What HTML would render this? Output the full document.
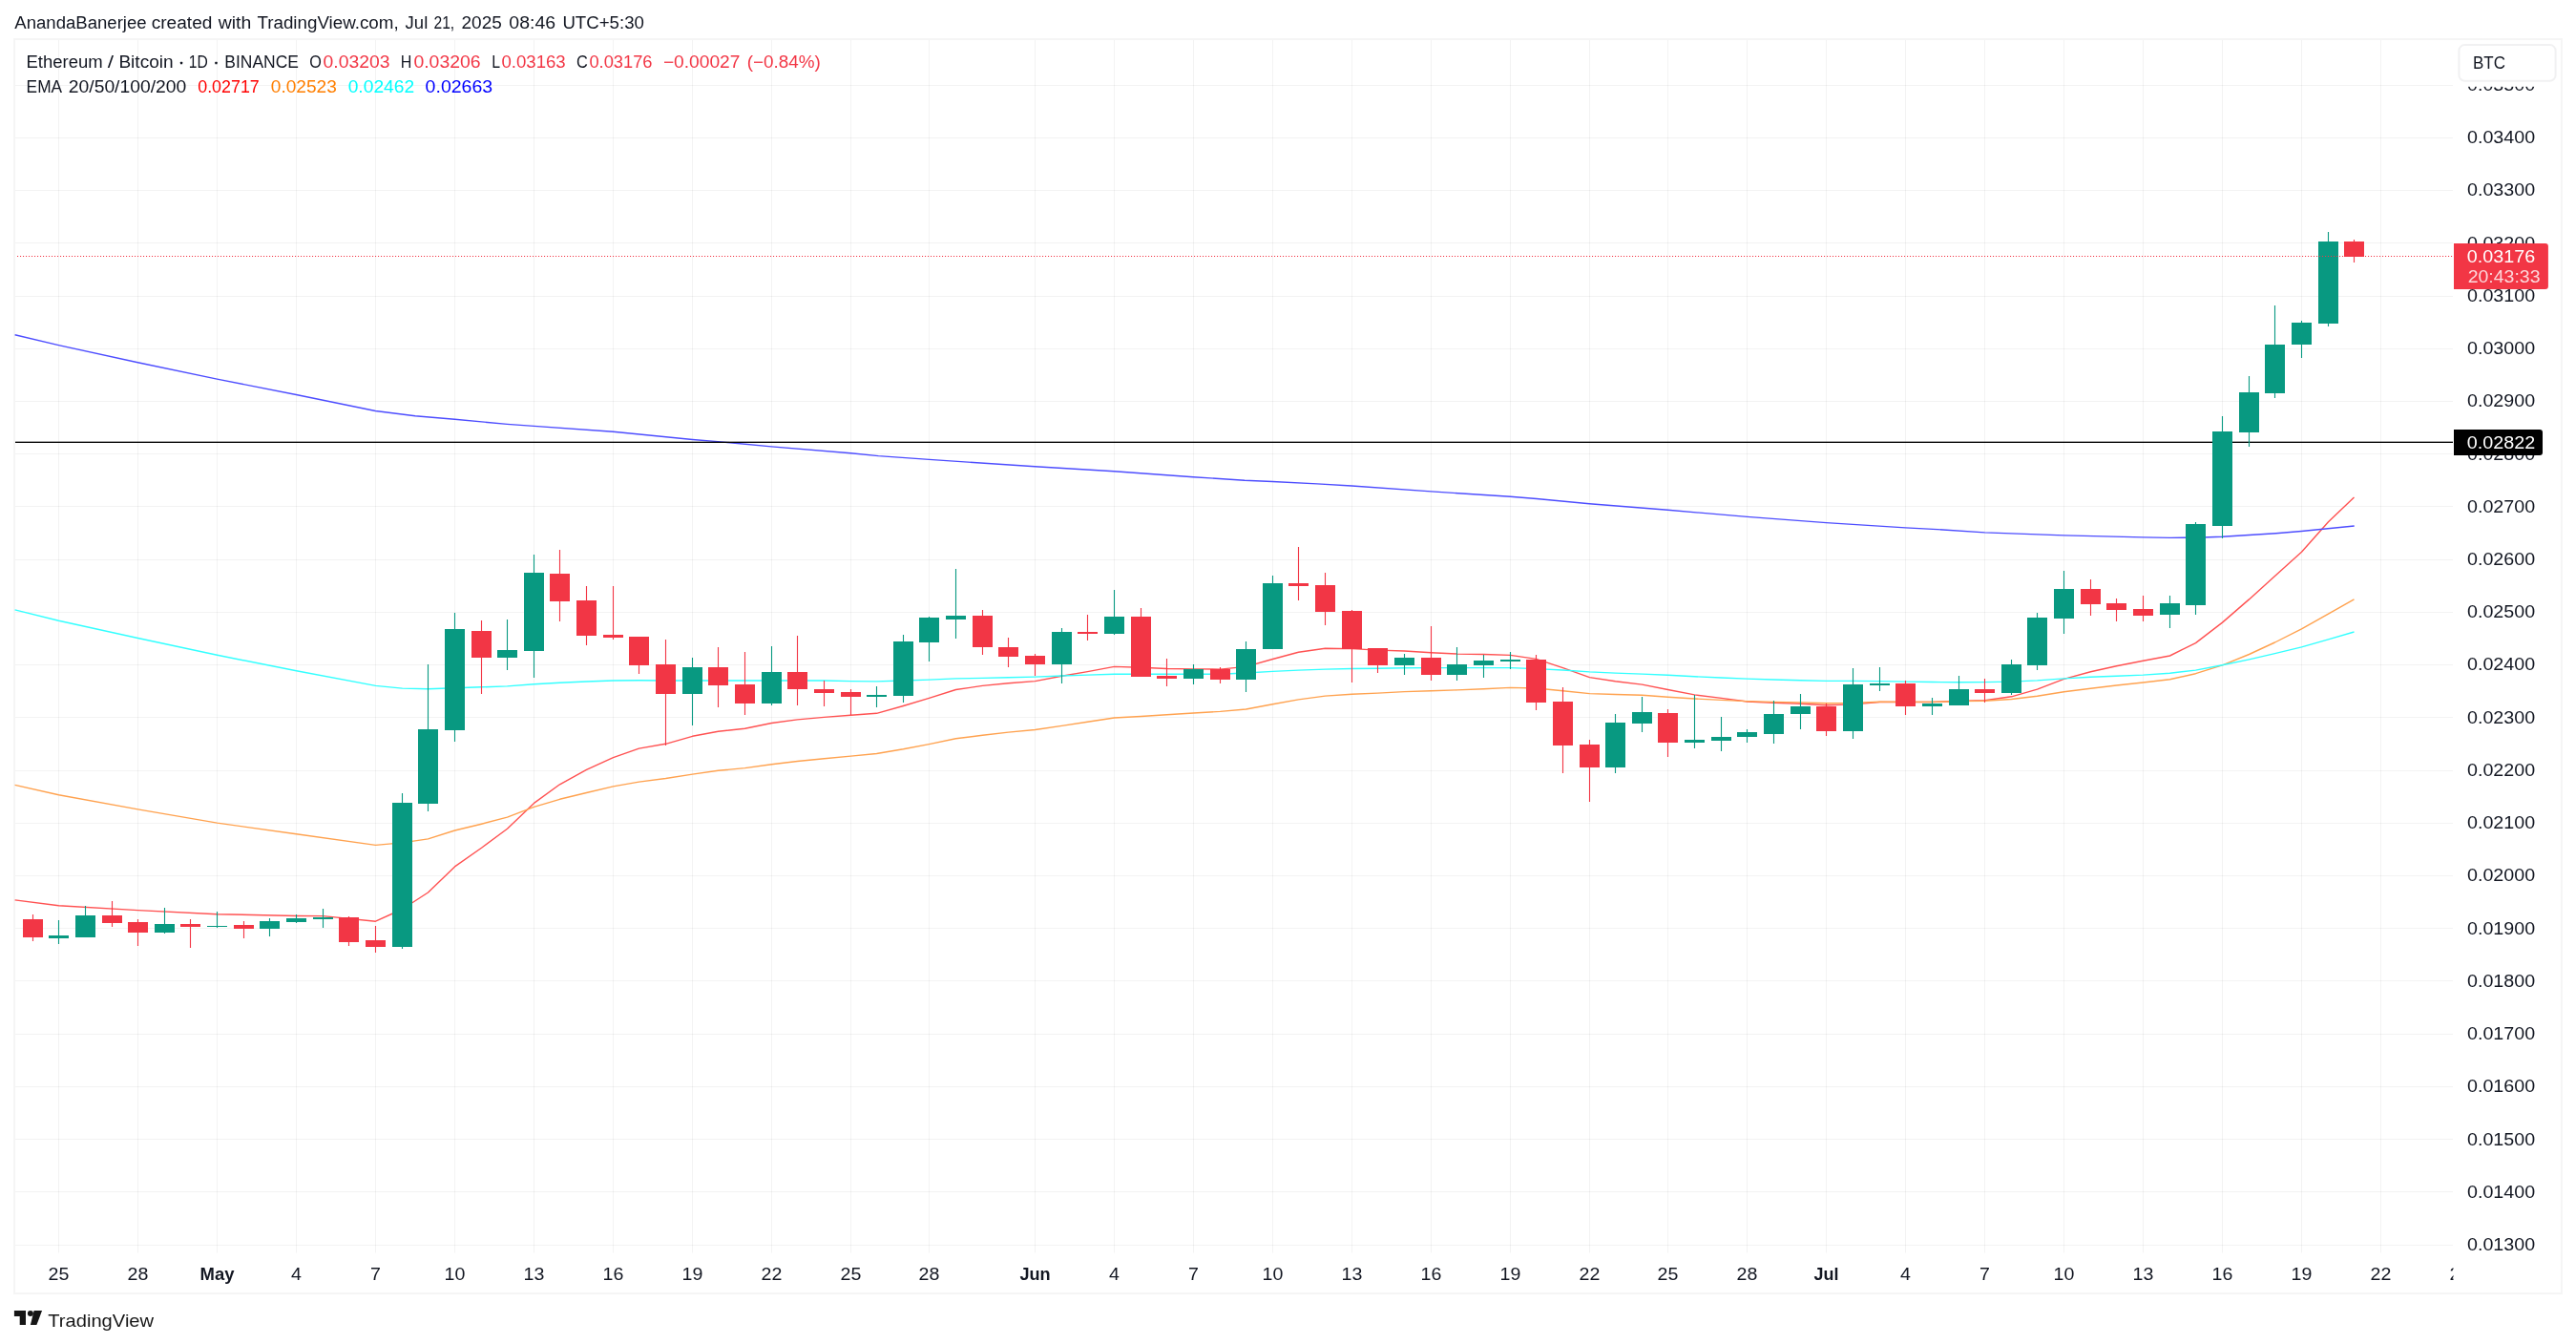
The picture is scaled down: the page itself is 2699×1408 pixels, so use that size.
<!DOCTYPE html>
<html><head><meta charset="utf-8"><title>ETHBTC chart</title>
<style>html,body{margin:0;padding:0;background:#fff}svg{will-change:transform}body{width:2699px;height:1408px;position:relative;overflow:hidden;font-family:"Liberation Sans",sans-serif}</style>
</head><body>
<svg width="2699" height="1408" viewBox="0 0 2699 1408" style="position:absolute;left:0;top:0" font-family="Liberation Sans, sans-serif">
<rect width="2699" height="1408" fill="#fff"/>
<rect x="15" y="41" width="2669" height="1314" fill="#fff" stroke="#f5f5f5" stroke-width="2"/>
<g fill="#000" fill-opacity="0.047"><rect x="16" y="1304" width="2554" height="1"/>
<rect x="16" y="1248" width="2554" height="1"/>
<rect x="16" y="1193" width="2554" height="1"/>
<rect x="16" y="1138" width="2554" height="1"/>
<rect x="16" y="1083" width="2554" height="1"/>
<rect x="16" y="1027" width="2554" height="1"/>
<rect x="16" y="972" width="2554" height="1"/>
<rect x="16" y="917" width="2554" height="1"/>
<rect x="16" y="862" width="2554" height="1"/>
<rect x="16" y="807" width="2554" height="1"/>
<rect x="16" y="751" width="2554" height="1"/>
<rect x="16" y="696" width="2554" height="1"/>
<rect x="16" y="641" width="2554" height="1"/>
<rect x="16" y="586" width="2554" height="1"/>
<rect x="16" y="530" width="2554" height="1"/>
<rect x="16" y="475" width="2554" height="1"/>
<rect x="16" y="420" width="2554" height="1"/>
<rect x="16" y="365" width="2554" height="1"/>
<rect x="16" y="310" width="2554" height="1"/>
<rect x="16" y="254" width="2554" height="1"/>
<rect x="16" y="199" width="2554" height="1"/>
<rect x="16" y="144" width="2554" height="1"/>
<rect x="16" y="89" width="2554" height="1"/>
<rect x="61" y="42" width="1" height="1270.5"/>
<rect x="144" y="42" width="1" height="1270.5"/>
<rect x="227" y="42" width="1" height="1270.5"/>
<rect x="310" y="42" width="1" height="1270.5"/>
<rect x="393" y="42" width="1" height="1270.5"/>
<rect x="476" y="42" width="1" height="1270.5"/>
<rect x="559" y="42" width="1" height="1270.5"/>
<rect x="642" y="42" width="1" height="1270.5"/>
<rect x="725" y="42" width="1" height="1270.5"/>
<rect x="808" y="42" width="1" height="1270.5"/>
<rect x="891" y="42" width="1" height="1270.5"/>
<rect x="973" y="42" width="1" height="1270.5"/>
<rect x="1084" y="42" width="1" height="1270.5"/>
<rect x="1167" y="42" width="1" height="1270.5"/>
<rect x="1250" y="42" width="1" height="1270.5"/>
<rect x="1333" y="42" width="1" height="1270.5"/>
<rect x="1416" y="42" width="1" height="1270.5"/>
<rect x="1499" y="42" width="1" height="1270.5"/>
<rect x="1582" y="42" width="1" height="1270.5"/>
<rect x="1665" y="42" width="1" height="1270.5"/>
<rect x="1747" y="42" width="1" height="1270.5"/>
<rect x="1830" y="42" width="1" height="1270.5"/>
<rect x="1913" y="42" width="1" height="1270.5"/>
<rect x="1996" y="42" width="1" height="1270.5"/>
<rect x="2079" y="42" width="1" height="1270.5"/>
<rect x="2162" y="42" width="1" height="1270.5"/>
<rect x="2245" y="42" width="1" height="1270.5"/>
<rect x="2328" y="42" width="1" height="1270.5"/>
<rect x="2411" y="42" width="1" height="1270.5"/>
<rect x="2494" y="42" width="1" height="1270.5"/></g>
<polyline points="15.6,942.9 61.5,948.8 144.5,953.6 227.5,957.7 310.5,959.5 338.5,959.6 393.5,965.2 421.5,952.5 448.5,935.0 476.5,907.9 504.5,888.2 531.5,868.2 559.5,841.4 586.5,821.8 614.5,806.4 642.5,793.6 669.5,784.1 697.5,779.3 725.5,771.3 752.5,766.3 780.5,763.2 808.5,757.5 835.5,753.9 863.5,751.4 891.5,749.3 918.5,747.3 946.5,739.5 973.5,731.4 1001.5,722.5 1029.5,718.4 1056.5,715.7 1084.5,713.6 1112.5,708.2 1139.5,703.6 1167.5,698.4 1195.5,699.3 1222.5,700.5 1250.5,700.9 1278.5,701.1 1305.5,698.4 1333.5,690.5 1360.5,683.2 1388.5,679.3 1416.5,679.6 1443.5,681.1 1471.5,682.0 1499.5,683.8 1526.5,685.0 1554.5,685.5 1582.5,686.4 1609.5,690.4 1637.5,699.7 1665.5,709.6 1692.5,713.8 1720.5,717.1 1747.5,722.5 1775.5,727.9 1803.5,731.4 1830.5,735.0 1858.5,736.4 1886.5,737.3 1913.5,738.8 1941.5,737.9 1969.5,735.5 1996.5,735.5 2024.5,735.5 2052.5,734.5 2079.5,733.8 2107.5,729.8 2134.5,722.1 2162.5,711.4 2190.5,703.8 2217.5,697.7 2245.5,692.3 2273.5,687.0 2300.5,673.6 2328.5,652.1 2356.5,627.9 2383.5,603.4 2411.5,578.3 2439.5,546.7 2466.5,521.1" fill="none" stroke="#ff5252" stroke-width="1.4" stroke-opacity="1" stroke-linejoin="round"/>
<polyline points="15.6,822.4 61.5,832.7 144.5,847.9 227.5,862.1 310.5,873.8 393.5,885.4 421.5,882.9 448.5,878.9 476.5,870.0 504.5,863.2 531.5,856.1 559.5,845.4 586.5,837.3 614.5,830.5 642.5,823.9 669.5,819.1 697.5,815.5 725.5,811.1 752.5,807.3 780.5,804.6 808.5,800.7 835.5,797.5 863.5,794.8 891.5,792.1 918.5,789.5 946.5,784.8 973.5,779.6 1001.5,773.8 1029.5,770.2 1056.5,767.1 1084.5,764.5 1112.5,760.4 1139.5,756.3 1167.5,752.0 1195.5,750.5 1222.5,748.8 1250.5,747.0 1278.5,745.4 1305.5,743.0 1333.5,737.7 1360.5,732.9 1388.5,729.1 1416.5,727.3 1443.5,726.1 1471.5,724.6 1499.5,723.8 1526.5,722.9 1554.5,721.8 1582.5,720.4 1609.5,721.0 1637.5,723.7 1665.5,726.6 1692.5,727.5 1720.5,728.3 1747.5,730.2 1775.5,732.0 1803.5,733.4 1830.5,734.6 1858.5,735.4 1886.5,735.9 1913.5,736.8 1941.5,736.4 1969.5,735.2 1996.5,735.4 2024.5,735.4 2052.5,734.6 2079.5,734.3 2107.5,732.5 2134.5,729.3 2162.5,724.8 2190.5,721.3 2217.5,718.0 2245.5,715.0 2273.5,711.8 2300.5,705.7 2328.5,696.8 2356.5,685.5 2383.5,673.0 2411.5,658.8 2439.5,643.2 2466.5,627.9" fill="none" stroke="#ffa24f" stroke-width="1.4" stroke-opacity="1" stroke-linejoin="round"/>
<polyline points="15.6,638.9 61.5,650.3 144.5,668.5 227.5,686.3 310.5,702.7 393.5,718.4 421.5,721.1 448.5,721.8 476.5,720.7 504.5,719.8 531.5,718.9 559.5,716.8 586.5,715.2 614.5,714.0 642.5,713.0 669.5,712.7 697.5,713.0 863.5,713.0 891.5,713.6 918.5,713.9 946.5,713.0 973.5,712.1 1001.5,710.9 1029.5,710.4 1056.5,709.8 1084.5,709.1 1112.5,708.0 1139.5,707.1 1167.5,706.3 1278.5,706.3 1305.5,705.0 1333.5,703.4 1360.5,702.1 1388.5,701.1 1416.5,700.5 1443.5,700.2 1471.5,699.8 1499.5,699.6 1582.5,699.6 1609.5,700.6 1637.5,702.0 1665.5,703.9 1692.5,705.1 1720.5,706.1 1747.5,707.3 1775.5,708.8 1803.5,710.0 1830.5,711.1 1858.5,712.0 1886.5,712.7 1913.5,713.4 1941.5,713.4 1969.5,713.6 1996.5,714.1 2024.5,714.5 2052.5,714.8 2079.5,714.6 2107.5,714.1 2134.5,712.9 2162.5,710.9 2190.5,709.3 2217.5,708.2 2245.5,707.1 2273.5,705.2 2300.5,702.1 2328.5,696.8 2356.5,690.9 2383.5,684.6 2411.5,677.9 2439.5,669.8 2466.5,662.0" fill="none" stroke="#33ffff" stroke-width="1.4" stroke-opacity="1" stroke-linejoin="round"/>
<polyline points="15.6,350.7 61.4,361.6 144.4,379.8 227.4,397.1 310.4,413.5 393.4,430.5 435.0,435.8 476.4,439.3 531.3,444.4 559.4,446.4 642.4,452.2 725.6,460.5 758.0,463.1 808.2,467.9 891.4,474.7 920.3,477.6 973.4,481.4 1084.4,488.8 1167.3,493.8 1250.2,499.7 1304.0,503.3 1333.1,504.5 1380.0,506.9 1416.3,509.0 1499.5,514.9 1582.4,520.2 1610.0,522.5 1665.3,527.8 1747.4,534.3 1830.6,541.4 1913.5,547.6 1996.4,552.9 2030.0,554.6 2079.5,557.9 2162.5,560.9 2245.5,562.9 2273.6,563.4 2300.5,563.2 2328.4,562.3 2356.4,560.5 2384.5,558.7 2411.4,556.5 2439.0,553.7 2466.7,551.0" fill="none" stroke="#4d4dff" stroke-width="1.4" stroke-opacity="1" stroke-linejoin="round"/>
<rect x="16" y="462.65" width="2554" height="1.35" fill="#000"/>
<rect x="33.95" y="958" width="1.1" height="28" fill="#f23645"/>
<rect x="24" y="963" width="21" height="19" fill="#f23645"/>
<rect x="60.95" y="964" width="1.1" height="25" fill="#089981"/>
<rect x="51" y="980" width="21" height="3" fill="#089981"/>
<rect x="88.95" y="949" width="1.1" height="33" fill="#089981"/>
<rect x="79" y="959" width="21" height="23" fill="#089981"/>
<rect x="116.95" y="944" width="1.1" height="27" fill="#f23645"/>
<rect x="107" y="959" width="21" height="8" fill="#f23645"/>
<rect x="143.95" y="963" width="1.1" height="28" fill="#f23645"/>
<rect x="134" y="966" width="21" height="11" fill="#f23645"/>
<rect x="171.95" y="951" width="1.1" height="27" fill="#089981"/>
<rect x="162" y="968" width="21" height="9" fill="#089981"/>
<rect x="198.95" y="963" width="1.1" height="30" fill="#f23645"/>
<rect x="189" y="968" width="21" height="3" fill="#f23645"/>
<rect x="226.95" y="955" width="1.1" height="17" fill="#089981"/>
<rect x="217" y="970" width="21" height="1" fill="#089981"/>
<rect x="254.95" y="965" width="1.1" height="18" fill="#f23645"/>
<rect x="245" y="969" width="21" height="4" fill="#f23645"/>
<rect x="281.95" y="962" width="1.1" height="19" fill="#089981"/>
<rect x="272" y="965" width="21" height="8" fill="#089981"/>
<rect x="309.95" y="958" width="1.1" height="9" fill="#089981"/>
<rect x="300" y="962" width="21" height="4" fill="#089981"/>
<rect x="337.95" y="952" width="1.1" height="20" fill="#089981"/>
<rect x="328" y="961" width="21" height="2" fill="#089981"/>
<rect x="364.95" y="960" width="1.1" height="31" fill="#f23645"/>
<rect x="355" y="961" width="21" height="26" fill="#f23645"/>
<rect x="392.95" y="970" width="1.1" height="28" fill="#f23645"/>
<rect x="383" y="985" width="21" height="7" fill="#f23645"/>
<rect x="420.95" y="831" width="1.1" height="163" fill="#089981"/>
<rect x="411" y="841" width="21" height="151" fill="#089981"/>
<rect x="447.95" y="696" width="1.1" height="154" fill="#089981"/>
<rect x="438" y="764" width="21" height="78" fill="#089981"/>
<rect x="475.95" y="642" width="1.1" height="135" fill="#089981"/>
<rect x="466" y="659" width="21" height="106" fill="#089981"/>
<rect x="503.95" y="650" width="1.1" height="77" fill="#f23645"/>
<rect x="494" y="661" width="21" height="28" fill="#f23645"/>
<rect x="530.95" y="649" width="1.1" height="53" fill="#089981"/>
<rect x="521" y="681" width="21" height="8" fill="#089981"/>
<rect x="558.95" y="581" width="1.1" height="129" fill="#089981"/>
<rect x="549" y="600" width="21" height="82" fill="#089981"/>
<rect x="585.95" y="576" width="1.1" height="75" fill="#f23645"/>
<rect x="576" y="601" width="21" height="29" fill="#f23645"/>
<rect x="613.95" y="614" width="1.1" height="62" fill="#f23645"/>
<rect x="604" y="629" width="21" height="37" fill="#f23645"/>
<rect x="641.95" y="614" width="1.1" height="56" fill="#f23645"/>
<rect x="632" y="665" width="21" height="3" fill="#f23645"/>
<rect x="668.95" y="667" width="1.1" height="39" fill="#f23645"/>
<rect x="659" y="667" width="21" height="30" fill="#f23645"/>
<rect x="696.95" y="670" width="1.1" height="111" fill="#f23645"/>
<rect x="687" y="696" width="21" height="31" fill="#f23645"/>
<rect x="724.95" y="689" width="1.1" height="71" fill="#089981"/>
<rect x="715" y="699" width="21" height="28" fill="#089981"/>
<rect x="751.95" y="678" width="1.1" height="63" fill="#f23645"/>
<rect x="742" y="699" width="21" height="19" fill="#f23645"/>
<rect x="779.95" y="683" width="1.1" height="66" fill="#f23645"/>
<rect x="770" y="717" width="21" height="20" fill="#f23645"/>
<rect x="807.95" y="677" width="1.1" height="62" fill="#089981"/>
<rect x="798" y="704" width="21" height="33" fill="#089981"/>
<rect x="834.95" y="666" width="1.1" height="73" fill="#f23645"/>
<rect x="825" y="704" width="21" height="18" fill="#f23645"/>
<rect x="862.95" y="713" width="1.1" height="27" fill="#f23645"/>
<rect x="853" y="722" width="21" height="4" fill="#f23645"/>
<rect x="890.95" y="722" width="1.1" height="27" fill="#f23645"/>
<rect x="881" y="725" width="21" height="5" fill="#f23645"/>
<rect x="917.95" y="719" width="1.1" height="22" fill="#089981"/>
<rect x="908" y="728" width="21" height="2" fill="#089981"/>
<rect x="945.95" y="665" width="1.1" height="71" fill="#089981"/>
<rect x="936" y="672" width="21" height="57" fill="#089981"/>
<rect x="972.95" y="646" width="1.1" height="47" fill="#089981"/>
<rect x="963" y="647" width="21" height="26" fill="#089981"/>
<rect x="1000.95" y="596" width="1.1" height="73" fill="#089981"/>
<rect x="991" y="645" width="21" height="4" fill="#089981"/>
<rect x="1028.95" y="639" width="1.1" height="47" fill="#f23645"/>
<rect x="1019" y="645" width="21" height="33" fill="#f23645"/>
<rect x="1055.95" y="668" width="1.1" height="31" fill="#f23645"/>
<rect x="1046" y="678" width="21" height="10" fill="#f23645"/>
<rect x="1083.95" y="685" width="1.1" height="23" fill="#f23645"/>
<rect x="1074" y="687" width="21" height="9" fill="#f23645"/>
<rect x="1111.95" y="658" width="1.1" height="58" fill="#089981"/>
<rect x="1102" y="662" width="21" height="34" fill="#089981"/>
<rect x="1138.95" y="644" width="1.1" height="27" fill="#f23645"/>
<rect x="1129" y="662" width="21" height="2" fill="#f23645"/>
<rect x="1166.95" y="618" width="1.1" height="47" fill="#089981"/>
<rect x="1157" y="646" width="21" height="18" fill="#089981"/>
<rect x="1194.95" y="637" width="1.1" height="72" fill="#f23645"/>
<rect x="1185" y="646" width="21" height="63" fill="#f23645"/>
<rect x="1221.95" y="690" width="1.1" height="29" fill="#f23645"/>
<rect x="1212" y="708" width="21" height="3" fill="#f23645"/>
<rect x="1249.95" y="696" width="1.1" height="21" fill="#089981"/>
<rect x="1240" y="701" width="21" height="10" fill="#089981"/>
<rect x="1277.95" y="699" width="1.1" height="17" fill="#f23645"/>
<rect x="1268" y="701" width="21" height="11" fill="#f23645"/>
<rect x="1304.95" y="672" width="1.1" height="53" fill="#089981"/>
<rect x="1295" y="680" width="21" height="32" fill="#089981"/>
<rect x="1332.95" y="603" width="1.1" height="77" fill="#089981"/>
<rect x="1323" y="611" width="21" height="69" fill="#089981"/>
<rect x="1359.95" y="573" width="1.1" height="56" fill="#f23645"/>
<rect x="1350" y="611" width="21" height="3" fill="#f23645"/>
<rect x="1387.95" y="600" width="1.1" height="55" fill="#f23645"/>
<rect x="1378" y="613" width="21" height="28" fill="#f23645"/>
<rect x="1415.95" y="639" width="1.1" height="76" fill="#f23645"/>
<rect x="1406" y="640" width="21" height="40" fill="#f23645"/>
<rect x="1442.95" y="679" width="1.1" height="26" fill="#f23645"/>
<rect x="1433" y="679" width="21" height="18" fill="#f23645"/>
<rect x="1470.95" y="685" width="1.1" height="22" fill="#089981"/>
<rect x="1461" y="689" width="21" height="8" fill="#089981"/>
<rect x="1498.95" y="656" width="1.1" height="57" fill="#f23645"/>
<rect x="1489" y="689" width="21" height="18" fill="#f23645"/>
<rect x="1525.95" y="678" width="1.1" height="35" fill="#089981"/>
<rect x="1516" y="696" width="21" height="11" fill="#089981"/>
<rect x="1553.95" y="686" width="1.1" height="24" fill="#089981"/>
<rect x="1544" y="692" width="21" height="5" fill="#089981"/>
<rect x="1581.95" y="683" width="1.1" height="18" fill="#089981"/>
<rect x="1572" y="691" width="21" height="2" fill="#089981"/>
<rect x="1608.95" y="686" width="1.1" height="58" fill="#f23645"/>
<rect x="1599" y="691" width="21" height="45" fill="#f23645"/>
<rect x="1636.95" y="720" width="1.1" height="90" fill="#f23645"/>
<rect x="1627" y="735" width="21" height="46" fill="#f23645"/>
<rect x="1664.95" y="775" width="1.1" height="65" fill="#f23645"/>
<rect x="1655" y="780" width="21" height="24" fill="#f23645"/>
<rect x="1691.95" y="748" width="1.1" height="62" fill="#089981"/>
<rect x="1682" y="757" width="21" height="47" fill="#089981"/>
<rect x="1719.95" y="730" width="1.1" height="37" fill="#089981"/>
<rect x="1710" y="746" width="21" height="12" fill="#089981"/>
<rect x="1746.95" y="743" width="1.1" height="50" fill="#f23645"/>
<rect x="1737" y="747" width="21" height="31" fill="#f23645"/>
<rect x="1774.95" y="728" width="1.1" height="56" fill="#089981"/>
<rect x="1765" y="775" width="21" height="3" fill="#089981"/>
<rect x="1802.95" y="751" width="1.1" height="36" fill="#089981"/>
<rect x="1793" y="772" width="21" height="4" fill="#089981"/>
<rect x="1829.95" y="764" width="1.1" height="14" fill="#089981"/>
<rect x="1820" y="767" width="21" height="5" fill="#089981"/>
<rect x="1857.95" y="734" width="1.1" height="45" fill="#089981"/>
<rect x="1848" y="748" width="21" height="21" fill="#089981"/>
<rect x="1885.95" y="727" width="1.1" height="37" fill="#089981"/>
<rect x="1876" y="740" width="21" height="8" fill="#089981"/>
<rect x="1912.95" y="737" width="1.1" height="34" fill="#f23645"/>
<rect x="1903" y="740" width="21" height="26" fill="#f23645"/>
<rect x="1940.95" y="700" width="1.1" height="74" fill="#089981"/>
<rect x="1931" y="717" width="21" height="49" fill="#089981"/>
<rect x="1968.95" y="699" width="1.1" height="25" fill="#089981"/>
<rect x="1959" y="716" width="21" height="2" fill="#089981"/>
<rect x="1995.95" y="713" width="1.1" height="36" fill="#f23645"/>
<rect x="1986" y="716" width="21" height="24" fill="#f23645"/>
<rect x="2023.95" y="731" width="1.1" height="18" fill="#089981"/>
<rect x="2014" y="737" width="21" height="3" fill="#089981"/>
<rect x="2051.95" y="708" width="1.1" height="31" fill="#089981"/>
<rect x="2042" y="722" width="21" height="17" fill="#089981"/>
<rect x="2078.95" y="711" width="1.1" height="25" fill="#f23645"/>
<rect x="2069" y="722" width="21" height="4" fill="#f23645"/>
<rect x="2106.95" y="691" width="1.1" height="37" fill="#089981"/>
<rect x="2097" y="696" width="21" height="30" fill="#089981"/>
<rect x="2133.95" y="642" width="1.1" height="60" fill="#089981"/>
<rect x="2124" y="647" width="21" height="50" fill="#089981"/>
<rect x="2161.95" y="598" width="1.1" height="66" fill="#089981"/>
<rect x="2152" y="617" width="21" height="31" fill="#089981"/>
<rect x="2189.95" y="607" width="1.1" height="38" fill="#f23645"/>
<rect x="2180" y="617" width="21" height="16" fill="#f23645"/>
<rect x="2216.95" y="627" width="1.1" height="24" fill="#f23645"/>
<rect x="2207" y="632" width="21" height="7" fill="#f23645"/>
<rect x="2244.95" y="624" width="1.1" height="27" fill="#f23645"/>
<rect x="2235" y="638" width="21" height="7" fill="#f23645"/>
<rect x="2272.95" y="624" width="1.1" height="34" fill="#089981"/>
<rect x="2263" y="632" width="21" height="12" fill="#089981"/>
<rect x="2299.95" y="547" width="1.1" height="97" fill="#089981"/>
<rect x="2290" y="549" width="21" height="85" fill="#089981"/>
<rect x="2327.95" y="436" width="1.1" height="128" fill="#089981"/>
<rect x="2318" y="452" width="21" height="99" fill="#089981"/>
<rect x="2355.95" y="394" width="1.1" height="74" fill="#089981"/>
<rect x="2346" y="411" width="21" height="42" fill="#089981"/>
<rect x="2382.95" y="320" width="1.1" height="97" fill="#089981"/>
<rect x="2373" y="361" width="21" height="51" fill="#089981"/>
<rect x="2410.95" y="336" width="1.1" height="39" fill="#089981"/>
<rect x="2401" y="338" width="21" height="23" fill="#089981"/>
<rect x="2438.95" y="243" width="1.1" height="99" fill="#089981"/>
<rect x="2429" y="253" width="21" height="86" fill="#089981"/>
<rect x="2465.95" y="251" width="1.1" height="24" fill="#f23645"/>
<rect x="2456" y="253" width="21" height="16" fill="#f23645"/>
<line x1="18" y1="268.5" x2="2570" y2="268.5" stroke="#f23645" stroke-width="1.15" stroke-dasharray="1.1 1.9"/>
<text x="2585.00" y="1309.95" font-size="18.3" fill="#131722" textLength="71.10" lengthAdjust="spacingAndGlyphs">0.01300</text>
<text x="2585.00" y="1254.72" font-size="18.3" fill="#131722" textLength="71.10" lengthAdjust="spacingAndGlyphs">0.01400</text>
<text x="2585.00" y="1199.50" font-size="18.3" fill="#131722" textLength="71.10" lengthAdjust="spacingAndGlyphs">0.01500</text>
<text x="2585.00" y="1144.27" font-size="18.3" fill="#131722" textLength="71.10" lengthAdjust="spacingAndGlyphs">0.01600</text>
<text x="2585.00" y="1089.04" font-size="18.3" fill="#131722" textLength="71.10" lengthAdjust="spacingAndGlyphs">0.01700</text>
<text x="2585.00" y="1033.81" font-size="18.3" fill="#131722" textLength="71.10" lengthAdjust="spacingAndGlyphs">0.01800</text>
<text x="2585.00" y="978.59" font-size="18.3" fill="#131722" textLength="71.10" lengthAdjust="spacingAndGlyphs">0.01900</text>
<text x="2585.00" y="923.36" font-size="18.3" fill="#131722" textLength="71.10" lengthAdjust="spacingAndGlyphs">0.02000</text>
<text x="2585.00" y="868.13" font-size="18.3" fill="#131722" textLength="71.10" lengthAdjust="spacingAndGlyphs">0.02100</text>
<text x="2585.00" y="812.91" font-size="18.3" fill="#131722" textLength="71.10" lengthAdjust="spacingAndGlyphs">0.02200</text>
<text x="2585.00" y="757.68" font-size="18.3" fill="#131722" textLength="71.10" lengthAdjust="spacingAndGlyphs">0.02300</text>
<text x="2585.00" y="702.45" font-size="18.3" fill="#131722" textLength="71.10" lengthAdjust="spacingAndGlyphs">0.02400</text>
<text x="2585.00" y="647.23" font-size="18.3" fill="#131722" textLength="71.10" lengthAdjust="spacingAndGlyphs">0.02500</text>
<text x="2585.00" y="592.00" font-size="18.3" fill="#131722" textLength="71.10" lengthAdjust="spacingAndGlyphs">0.02600</text>
<text x="2585.00" y="536.77" font-size="18.3" fill="#131722" textLength="71.10" lengthAdjust="spacingAndGlyphs">0.02700</text>
<text x="2585.00" y="481.54" font-size="18.3" fill="#131722" textLength="71.10" lengthAdjust="spacingAndGlyphs">0.02800</text>
<text x="2585.00" y="426.32" font-size="18.3" fill="#131722" textLength="71.10" lengthAdjust="spacingAndGlyphs">0.02900</text>
<text x="2585.00" y="371.09" font-size="18.3" fill="#131722" textLength="71.10" lengthAdjust="spacingAndGlyphs">0.03000</text>
<text x="2585.00" y="315.86" font-size="18.3" fill="#131722" textLength="71.10" lengthAdjust="spacingAndGlyphs">0.03100</text>
<text x="2585.00" y="260.64" font-size="18.3" fill="#131722" textLength="71.10" lengthAdjust="spacingAndGlyphs">0.03200</text>
<text x="2585.00" y="205.41" font-size="18.3" fill="#131722" textLength="71.10" lengthAdjust="spacingAndGlyphs">0.03300</text>
<text x="2585.00" y="150.18" font-size="18.3" fill="#131722" textLength="71.10" lengthAdjust="spacingAndGlyphs">0.03400</text>
<text x="2585.00" y="94.96" font-size="18.3" fill="#131722" textLength="71.10" lengthAdjust="spacingAndGlyphs">0.03500</text>
<rect x="2571" y="42" width="112" height="48.8" fill="#fff"/>
<rect x="2576.4" y="47.1" width="101.2" height="37.7" rx="6" fill="#fff" stroke="#f1f1f2" stroke-width="2"/>
<text x="2591.06" y="72.00" font-size="18" fill="#131722" textLength="33.94" lengthAdjust="spacingAndGlyphs">BTC</text>
<path d="M2571.0 255.0 H2666.9 Q2669.9 255.0 2669.9 258.0 V299.9 Q2669.9 302.9 2666.9 302.9 H2571.0 Z" fill="#f23645"/>
<text x="2584.80" y="275.20" font-size="18.3" fill="#fff" textLength="71.35" lengthAdjust="spacingAndGlyphs">0.03176</text>
<text x="2585.70" y="296.10" font-size="18.3" fill="#fff" textLength="75.78" lengthAdjust="spacingAndGlyphs" fill-opacity="0.8">20:43:33</text>
<path d="M2571.0 449.9 H2661.0 Q2664.0 449.9 2664.0 452.9 V473.9 Q2664.0 476.9 2661.0 476.9 H2571.0 Z" fill="#000"/>
<text x="2584.80" y="470.15" font-size="18.3" fill="#fff" textLength="71.35" lengthAdjust="spacingAndGlyphs">0.02822</text>
<clipPath id="tc"><rect x="16" y="1313" width="2554.5" height="41"/></clipPath>
<g clip-path="url(#tc)">
<text x="50.60" y="1340.60" font-size="18" fill="#131722" textLength="21.82" lengthAdjust="spacingAndGlyphs">25</text>
<text x="133.60" y="1340.60" font-size="18" fill="#131722" textLength="21.82" lengthAdjust="spacingAndGlyphs">28</text>
<text x="209.55" y="1340.60" font-size="18" fill="#131722" textLength="35.92" lengthAdjust="spacingAndGlyphs" font-weight="bold">May</text>
<text x="305.05" y="1340.60" font-size="18" fill="#131722" textLength="10.91" lengthAdjust="spacingAndGlyphs">4</text>
<text x="388.05" y="1340.60" font-size="18" fill="#131722" textLength="10.91" lengthAdjust="spacingAndGlyphs">7</text>
<text x="465.60" y="1340.60" font-size="18" fill="#131722" textLength="21.82" lengthAdjust="spacingAndGlyphs">10</text>
<text x="548.60" y="1340.60" font-size="18" fill="#131722" textLength="21.82" lengthAdjust="spacingAndGlyphs">13</text>
<text x="631.60" y="1340.60" font-size="18" fill="#131722" textLength="21.82" lengthAdjust="spacingAndGlyphs">16</text>
<text x="714.60" y="1340.60" font-size="18" fill="#131722" textLength="21.82" lengthAdjust="spacingAndGlyphs">19</text>
<text x="797.60" y="1340.60" font-size="18" fill="#131722" textLength="21.82" lengthAdjust="spacingAndGlyphs">22</text>
<text x="880.60" y="1340.60" font-size="18" fill="#131722" textLength="21.82" lengthAdjust="spacingAndGlyphs">25</text>
<text x="962.60" y="1340.60" font-size="18" fill="#131722" textLength="21.82" lengthAdjust="spacingAndGlyphs">28</text>
<text x="1068.40" y="1340.60" font-size="18" fill="#131722" textLength="32.20" lengthAdjust="spacingAndGlyphs" font-weight="bold">Jun</text>
<text x="1162.05" y="1340.60" font-size="18" fill="#131722" textLength="10.91" lengthAdjust="spacingAndGlyphs">4</text>
<text x="1245.05" y="1340.60" font-size="18" fill="#131722" textLength="10.91" lengthAdjust="spacingAndGlyphs">7</text>
<text x="1322.60" y="1340.60" font-size="18" fill="#131722" textLength="21.82" lengthAdjust="spacingAndGlyphs">10</text>
<text x="1405.60" y="1340.60" font-size="18" fill="#131722" textLength="21.82" lengthAdjust="spacingAndGlyphs">13</text>
<text x="1488.60" y="1340.60" font-size="18" fill="#131722" textLength="21.82" lengthAdjust="spacingAndGlyphs">16</text>
<text x="1571.60" y="1340.60" font-size="18" fill="#131722" textLength="21.82" lengthAdjust="spacingAndGlyphs">19</text>
<text x="1654.60" y="1340.60" font-size="18" fill="#131722" textLength="21.82" lengthAdjust="spacingAndGlyphs">22</text>
<text x="1736.60" y="1340.60" font-size="18" fill="#131722" textLength="21.82" lengthAdjust="spacingAndGlyphs">25</text>
<text x="1819.60" y="1340.60" font-size="18" fill="#131722" textLength="21.82" lengthAdjust="spacingAndGlyphs">28</text>
<text x="1900.55" y="1340.60" font-size="18" fill="#131722" textLength="25.91" lengthAdjust="spacingAndGlyphs" font-weight="bold">Jul</text>
<text x="1991.05" y="1340.60" font-size="18" fill="#131722" textLength="10.91" lengthAdjust="spacingAndGlyphs">4</text>
<text x="2074.05" y="1340.60" font-size="18" fill="#131722" textLength="10.91" lengthAdjust="spacingAndGlyphs">7</text>
<text x="2151.60" y="1340.60" font-size="18" fill="#131722" textLength="21.82" lengthAdjust="spacingAndGlyphs">10</text>
<text x="2234.60" y="1340.60" font-size="18" fill="#131722" textLength="21.82" lengthAdjust="spacingAndGlyphs">13</text>
<text x="2317.60" y="1340.60" font-size="18" fill="#131722" textLength="21.82" lengthAdjust="spacingAndGlyphs">16</text>
<text x="2400.60" y="1340.60" font-size="18" fill="#131722" textLength="21.82" lengthAdjust="spacingAndGlyphs">19</text>
<text x="2483.60" y="1340.60" font-size="18" fill="#131722" textLength="21.82" lengthAdjust="spacingAndGlyphs">22</text>
<text x="2566.60" y="1340.60" font-size="18" fill="#131722" textLength="21.82" lengthAdjust="spacingAndGlyphs">25</text>
</g>
<text x="15.30" y="29.80" font-size="18" fill="#131722" textLength="138.32" lengthAdjust="spacingAndGlyphs">AnandaBanerjee</text>
<text x="158.70" y="29.80" font-size="18" fill="#131722" textLength="63.69" lengthAdjust="spacingAndGlyphs">created</text>
<text x="228.65" y="29.80" font-size="18" fill="#131722" textLength="34.56" lengthAdjust="spacingAndGlyphs">with</text>
<text x="269.40" y="29.80" font-size="18" fill="#131722" textLength="148.32" lengthAdjust="spacingAndGlyphs">TradingView.com,</text>
<text x="424.60" y="29.80" font-size="18" fill="#131722" textLength="23.71" lengthAdjust="spacingAndGlyphs">Jul</text>
<text x="454.50" y="29.80" font-size="18" fill="#131722" textLength="21.72" lengthAdjust="spacingAndGlyphs">21,</text>
<text x="483.50" y="29.80" font-size="18" fill="#131722" textLength="42.29" lengthAdjust="spacingAndGlyphs">2025</text>
<text x="533.30" y="29.80" font-size="18" fill="#131722" textLength="48.79" lengthAdjust="spacingAndGlyphs">08:46</text>
<text x="589.40" y="29.80" font-size="18" fill="#131722" textLength="85.49" lengthAdjust="spacingAndGlyphs">UTC+5:30</text>
<text x="27.50" y="70.95" font-size="18" fill="#131722" textLength="80.19" lengthAdjust="spacingAndGlyphs">Ethereum</text>
<text x="112.80" y="70.95" font-size="18" fill="#131722" textLength="6.34" lengthAdjust="spacingAndGlyphs">/</text>
<text x="124.40" y="70.95" font-size="18" fill="#131722" textLength="57.28" lengthAdjust="spacingAndGlyphs">Bitcoin</text>
<text x="197.80" y="70.95" font-size="18" fill="#131722" textLength="20.01" lengthAdjust="spacingAndGlyphs">1D</text>
<text x="235.30" y="70.95" font-size="18" fill="#131722" textLength="77.62" lengthAdjust="spacingAndGlyphs">BINANCE</text>
<rect x="188.90" y="64.85" width="2.3" height="2.3" rx="0.5" fill="#131722"/>
<rect x="225.30" y="64.85" width="2.3" height="2.3" rx="0.5" fill="#131722"/>
<text x="324.30" y="70.95" font-size="18" fill="#131722" textLength="12.60" lengthAdjust="spacingAndGlyphs">O</text>
<text x="338.60" y="70.95" font-size="18" fill="#f23645" textLength="69.92" lengthAdjust="spacingAndGlyphs">0.03203</text>
<text x="419.80" y="70.95" font-size="18" fill="#131722" textLength="11.60" lengthAdjust="spacingAndGlyphs">H</text>
<text x="433.40" y="70.95" font-size="18" fill="#f23645" textLength="70.22" lengthAdjust="spacingAndGlyphs">0.03206</text>
<text x="515.20" y="70.95" font-size="18" fill="#131722" textLength="8.81" lengthAdjust="spacingAndGlyphs">L</text>
<text x="525.50" y="70.95" font-size="18" fill="#f23645" textLength="67.22" lengthAdjust="spacingAndGlyphs">0.03163</text>
<text x="603.90" y="70.95" font-size="18" fill="#131722" textLength="11.80" lengthAdjust="spacingAndGlyphs">C</text>
<text x="617.40" y="70.95" font-size="18" fill="#f23645" textLength="66.12" lengthAdjust="spacingAndGlyphs">0.03176</text>
<text x="694.90" y="70.95" font-size="18" fill="#f23645" textLength="80.58" lengthAdjust="spacingAndGlyphs">−0.00027</text>
<text x="782.80" y="70.95" font-size="18" fill="#f23645" textLength="77.09" lengthAdjust="spacingAndGlyphs">(−0.84%)</text>
<text x="27.60" y="96.80" font-size="18" fill="#131722" textLength="37.51" lengthAdjust="spacingAndGlyphs">EMA</text>
<text x="71.80" y="96.80" font-size="18" fill="#131722" textLength="123.51" lengthAdjust="spacingAndGlyphs">20/50/100/200</text>
<text x="207.20" y="96.80" font-size="18" fill="#ff0000" textLength="64.62" lengthAdjust="spacingAndGlyphs">0.02717</text>
<text x="283.80" y="96.80" font-size="18" fill="#ff7f00" textLength="69.02" lengthAdjust="spacingAndGlyphs">0.02523</text>
<text x="364.70" y="96.80" font-size="18" fill="#00ffff" textLength="69.42" lengthAdjust="spacingAndGlyphs">0.02462</text>
<text x="445.60" y="96.80" font-size="18" fill="#0000ff" textLength="70.62" lengthAdjust="spacingAndGlyphs">0.02663</text>
<g fill="#161616"><path d="M14.9 1373.1 H27 V1388 H20.7 V1379.1 H14.9 Z"/><circle cx="31.9" cy="1376.1" r="3"/><path d="M35.6 1373.1 H44.1 L38.4 1388 H31.9 Z"/></g>
<text x="50.30" y="1389.80" font-size="19" fill="#161616" textLength="110.80" lengthAdjust="spacingAndGlyphs">TradingView</text>
</svg>
</body></html>
